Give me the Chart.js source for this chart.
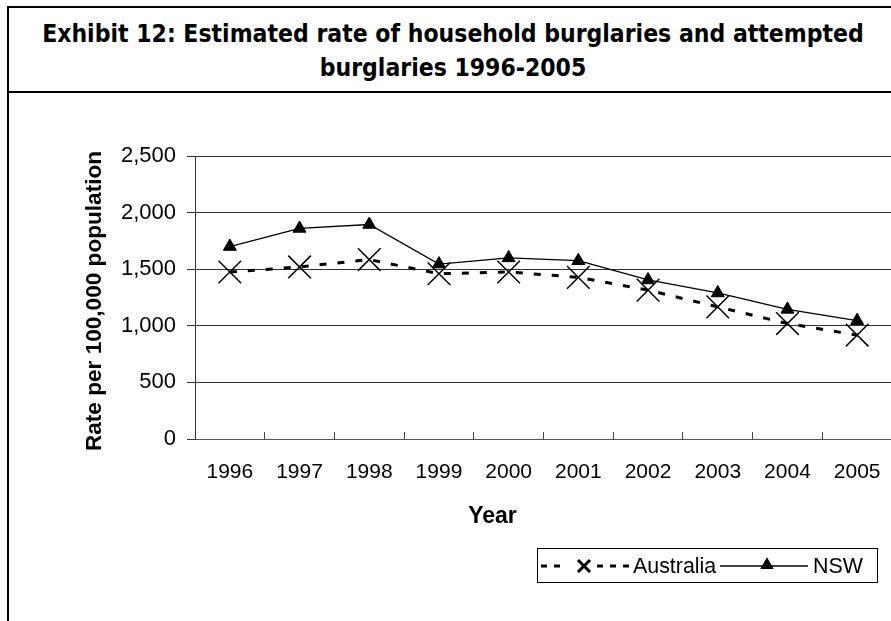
<!DOCTYPE html>
<html>
<head>
<meta charset="utf-8">
<script src="https://cdn.jsdelivr.net/npm/chart.js@4.4.1/dist/chart.umd.min.js"></script>
<style>
  html, body { margin: 0; padding: 0; width: 891px; height: 621px; overflow: hidden; background: #fff; }
  #frame { position: absolute; left: 7px; top: 6px; width: 890px; height: 700px;
           border-left: 2px solid #000; border-top: 2px solid #000; box-sizing: border-box; }
  #title { height: 85px; border-bottom: 2px solid #000; box-sizing: border-box;
           font-family: "DejaVu Sans Condensed", "DejaVu Sans", sans-serif; font-stretch: condensed;
           font-weight: bold; font-size: 24.5px; line-height: 34px; text-align: center;
           white-space: nowrap; padding-top: 9px; color: #000; }
  #c { position: absolute; left: 0; top: 0; }
</style>
</head>
<body>
<div id="frame"><div id="title">Exhibit 12: Estimated rate of household burglaries and attempted<br>burglaries 1996-2005</div></div>
<canvas id="c" width="893" height="621"></canvas>
<script>
const years = ['1996', '1997', '1998', '1999', '2000', '2001', '2002', '2003', '2004', '2005'];
const australia = [1475, 1520, 1585, 1460, 1475, 1428, 1315, 1167, 1020, 918];
const nsw = [1700, 1860, 1895, 1545, 1600, 1575, 1405, 1290, 1145, 1045];
const seriesNames = ['Australia', 'NSW'];
const yTicks = [0, 500, 1000, 1500, 2000, 2500];
const xTitle = 'Year';
const yTitle = 'Rate per 100,000 population';

const FONT = "'Liberation Sans', Arial, sans-serif";

const boxLegend = {
  id: 'boxLegend',
  afterDraw(chart) {
    const ctx = chart.ctx;
    const ds = chart.data.datasets;
    ctx.save();
    // axis titles
    ctx.fillStyle = '#000';
    ctx.textBaseline = 'middle';
    ctx.textAlign = 'center';
    ctx.font = 'bold 23px ' + FONT;
    ctx.fillText(xTitle, 492.5, 516.5);
    ctx.save();
    ctx.translate(95, 301);
    ctx.rotate(-Math.PI / 2);
    ctx.font = 'bold 22.6px ' + FONT;
    ctx.fillText(yTitle, 0, 0);
    ctx.restore();
    // legend box
    const cy = 566;
    ctx.strokeStyle = '#000';
    ctx.lineWidth = 1;
    ctx.setLineDash([]);
    ctx.strokeRect(537.5, 548.5, 340, 34);
    // Australia sample
    ctx.lineWidth = 3;
    ctx.setLineDash([6, 7]);
    ctx.beginPath(); ctx.moveTo(541, cy); ctx.lineTo(566, cy); ctx.stroke();
    ctx.beginPath(); ctx.moveTo(597, cy); ctx.lineTo(630, cy); ctx.stroke();
    ctx.setLineDash([]);
    Chart.helpers.drawPoint(ctx, {pointStyle: 'crossRot', radius: 8.5, borderWidth: 1.5, rotation: 0}, 584, cy);
    ctx.fillStyle = '#000';
    ctx.font = '21.4px ' + FONT;
    ctx.textAlign = 'left';
    ctx.fillText(ds[0].label, 633, cy + 1);
    // NSW sample
    ctx.strokeStyle = '#000';
    ctx.lineWidth = 1.3;
    ctx.beginPath(); ctx.moveTo(720, cy); ctx.lineTo(808, cy); ctx.stroke();
    ctx.fillStyle = '#000';
    Chart.helpers.drawPoint(ctx, {pointStyle: 'triangle', radius: 6.5, borderWidth: 1, rotation: 0}, 767, cy - 1);
    ctx.fillText(ds[1].label, 813, cy + 1);
    ctx.restore();
  }
};

new Chart(document.getElementById('c'), {
  type: 'line',
  data: {
    labels: years,
    datasets: [
      {
        label: seriesNames[0], data: australia,
        borderColor: '#000', borderWidth: 3, borderDash: [7, 11],
        pointStyle: 'crossRot', pointRadius: 16, pointBorderWidth: 1.5,
        pointBorderColor: '#000', pointBackgroundColor: '#000', tension: 0, fill: false
      },
      {
        label: seriesNames[1], data: nsw,
        borderColor: '#000', borderWidth: 1.3,
        pointStyle: 'triangle', pointRadius: 7.5, pointBorderWidth: 1,
        pointBorderColor: '#000', pointBackgroundColor: '#000', tension: 0, fill: false
      }
    ]
  },
  options: {
    responsive: false,
    animation: false,
    devicePixelRatio: 1,
    locale: 'en-US',
    layout: { autoPadding: false, padding: { top: 156, left: 0, right: 1, bottom: 82 } },
    plugins: { legend: { display: false }, title: { display: false }, tooltip: { enabled: false } },
    scales: {
      x: {
        type: 'category',
        offset: true,
        grid: { display: true, drawOnChartArea: false, drawTicks: true, tickLength: -7, color: '#444', offset: true },
        border: { display: true, color: '#555', width: 1 },
        ticks: { color: '#000', font: { family: FONT, size: 21, lineHeight: 3 }, padding: 9, maxRotation: 0, autoSkip: false },
        title: { display: false },
        afterFit: s => { s.height = 100; s.paddingLeft = 0; s.paddingRight = 0; }
      },
      y: {
        min: 0, max: 2500,
        afterBuildTicks: s => { s.ticks = yTicks.map(v => ({ value: v })); },
        grid: { color: '#333', tickLength: 8 },
        border: { display: true, color: '#333', width: 1 },
        ticks: { color: '#000', font: { family: FONT, size: 22 }, padding: 11 },
        title: { display: false },
        afterFit: s => { s.width = 195; s.paddingTop = 0; s.paddingBottom = 0; }
      }
    }
  },
  plugins: [boxLegend]
});
</script>
</body>
</html>
